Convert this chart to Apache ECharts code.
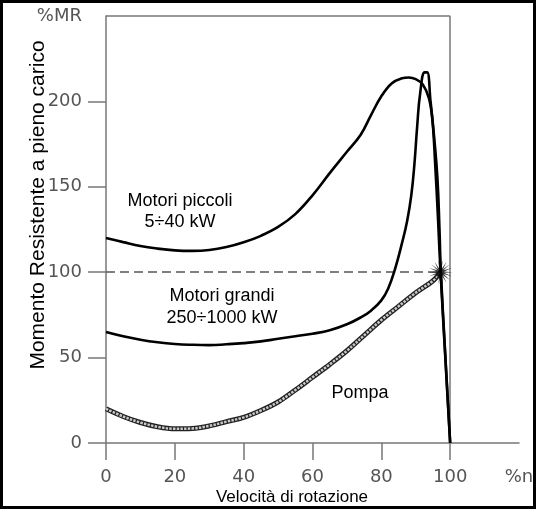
<!DOCTYPE html>
<html>
<head>
<meta charset="utf-8">
<script src="https://cdn.jsdelivr.net/npm/echarts@6/dist/echarts.min.js"></script>
<style>html,body{margin:0;padding:0;background:#fff;}#c{width:539px;height:510px;}</style>
</head>
<body>
<div id="c"></div>
<script>
// ---- data ----
const xTicks = [0, 20, 40, 60, 80, 100];
const yTicks = [0, 50, 100, 150, 200];
const xEndLabel = '%n';
const yEndLabel = '%MR';
const xEndValue = 120;
const yEndValue = 250;

const smallMotor = [[0,120],[5,117.6],[10,115.3],[15,113.8],[20,112.8],[25,112.5],[30,113],[35,114.7],[40,117.5],[45,121.3],[50,126.5],[55,134],[60,145],[65,158],[70,170.5],[74,180.5],[77,192],[80,203],[83,210.5],[86,213.5],[88,214],[90,213],[92,210],[93.8,202],[94.8,190],[95.6,165],[96.5,130],[97.2,100],[100,0]];
const largeMotor = [[0,65],[5,62.5],[10,60.5],[15,59],[20,58],[25,57.5],[30,57.3],[35,57.8],[40,58.5],[45,59.5],[50,61],[55,62.5],[60,64],[65,66],[70,69.5],[74,73.5],[77,77.5],[80,83.5],[82,90.5],[84,102],[86,117],[87.5,130],[88.7,145],[89.6,163],[90.4,185],[91.3,205],[92.6,217],[93.3,217],[94.3,200],[95.3,180],[96.3,155],[96.9,125],[97.3,100],[100,0]];
const pump = [[0,20],[5,15.5],[10,12],[15,9.5],[20,8.3],[25,8.5],[30,10],[35,12.5],[40,15],[45,19],[50,24],[55,31],[60,38.5],[65,46],[70,54],[75,63],[80,72],[85,80],[90,88],[95,95],[97.2,100]];
const ratedPoint = [[97.2, 100]];
const ratedLevel = 100;
const frameX = 100;

const labels = [
  { text: 'Motori piccoli', x: 180, y: 201 },
  { text: '5÷40 kW', x: 180, y: 222 },
  { text: 'Motori grandi', x: 222, y: 296 },
  { text: '250÷1000 kW', x: 222, y: 318 },
  { text: 'Pompa', x: 360, y: 393 }
];

// star burst symbol
let star = 'path://';
const n = 36;
for (let i = 0; i < n; i++) {
  const a = i * Math.PI * 2 / n;
  const r = (i % 2 === 0) ? 1 : 0.3;
  const px = (Math.cos(a) * r).toFixed(3), py = (Math.sin(a) * r).toFixed(3);
  star += (i === 0 ? 'M' : 'L') + px + ' ' + py + ' ';
}
star += 'Z';

const chart = echarts.init(document.getElementById('c'), null, { renderer: 'canvas' });
const axisGray = '#777';
const tickFont = { fontFamily: '"DejaVu Sans", sans-serif', fontSize: 18, color: '#555' };
const curve = (data, s) => ({
  type: 'line', data, symbol: 'none', smooth: s,
  lineStyle: { color: '#000', width: 2.6 }, z: 5, silent: true
});

chart.setOption({
  animation: false,
  backgroundColor: '#fff',
  grid: { left: 106, right: 20, top: 16, bottom: 67 },
  xAxis: {
    type: 'value', min: 0, max: xEndValue, interval: 20,
    axisLine: { show: true, lineStyle: { color: axisGray, width: 1.5 } },
    axisTick: { show: true, length: 17, customValues: xTicks, lineStyle: { color: axisGray, width: 1.5 } },
    axisLabel: Object.assign({ customValues: xTicks.concat([xEndValue]), margin: 25,
      formatter: v => v === xEndValue ? xEndLabel : String(v) }, tickFont),
    splitLine: { show: false }
  },
  yAxis: {
    type: 'value', min: 0, max: yEndValue, interval: 50,
    axisLine: { show: true, lineStyle: { color: axisGray, width: 1.5 } },
    axisTick: { show: true, length: 18, customValues: yTicks, lineStyle: { color: axisGray, width: 1.5 } },
    axisLabel: Object.assign({ customValues: yTicks.concat([yEndValue]), margin: 24,
      formatter: v => v === yEndValue ? yEndLabel : String(v) }, tickFont),
    splitLine: { show: false }
  },
  series: [
    {
      type: 'scatter', data: [], silent: true,
      markLine: {
        silent: true, symbol: 'none', animation: false,
        label: { show: false },
        data: [
          [{ coord: [0, yEndValue], lineStyle: { color: axisGray, width: 1.5, type: 'solid' } }, { coord: [frameX, yEndValue] }],
          [{ coord: [frameX, 0], lineStyle: { color: axisGray, width: 1.5, type: 'solid' } }, { coord: [frameX, yEndValue] }],
          [{ coord: [0, ratedLevel], lineStyle: { color: '#555', width: 1.5, type: [9, 5] } }, { coord: [ratedPoint[0][0], ratedLevel] }]
        ]
      }
    },
    curve(smallMotor, 0.4),
    curve(largeMotor, 0.45),
    { type: 'line', data: pump, symbol: 'none', smooth: 0.35, silent: true, z: 4,
      lineStyle: { color: '#222', width: 5 } },
    { type: 'line', data: pump, symbol: 'none', smooth: 0.35, silent: true, z: 4,
      lineStyle: { color: '#c8c8c8', width: 2.5, type: [2.5, 1.2] } },
    { type: 'scatter', data: ratedPoint, symbol: star, symbolSize: 24, silent: true, z: 6,
      itemStyle: { color: '#000' } }
  ],
  graphic: [
    { type: 'rect', shape: { x: 1.5, y: 1.5, width: 533, height: 506 }, style: { fill: 'none', stroke: '#000', lineWidth: 3 }, silent: true },
    { type: 'text', x: 38, y: 205, rotation: Math.PI / 2,
      style: { text: 'Momento Resistente a pieno carico', textAlign: 'center', textVerticalAlign: 'middle',
        font: '21px "Liberation Sans", Arial, sans-serif', fill: '#000' } },
    { type: 'text', x: 292, y: 497,
      style: { text: 'Velocità di rotazione', textAlign: 'center', textVerticalAlign: 'middle',
        font: '17px "Liberation Sans", Arial, sans-serif', fill: '#000' } }
  ].concat(labels.map(l => ({ type: 'text', x: l.x, y: l.y,
      style: { text: l.text, textAlign: 'center', textVerticalAlign: 'middle',
        font: '18px "Liberation Sans", Arial, sans-serif', fill: '#000' } })))
});
</script>
</body>
</html>
